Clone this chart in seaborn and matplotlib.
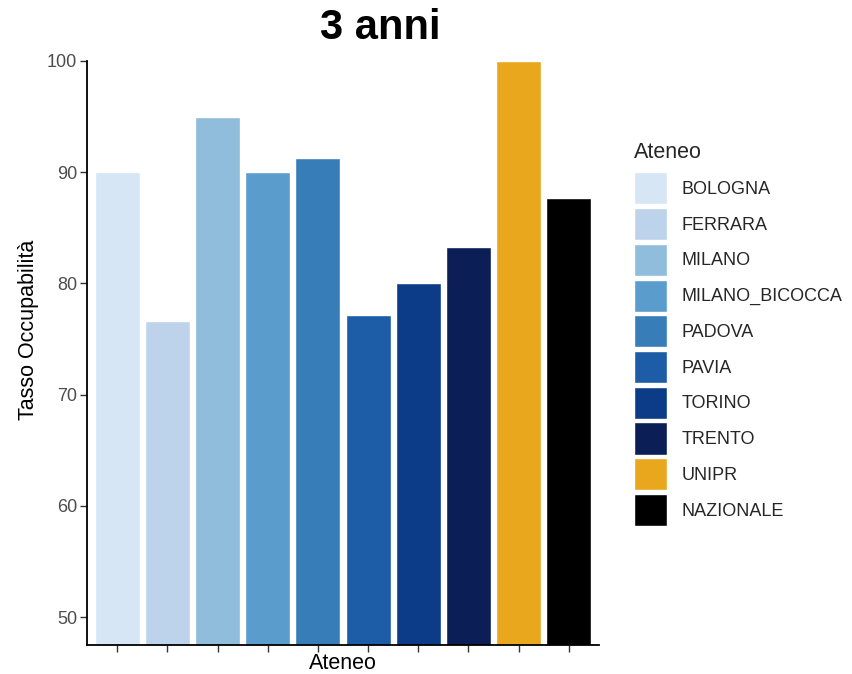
import matplotlib
matplotlib.use("Agg")
import matplotlib.pyplot as plt
import seaborn as sns
import pandas as pd
from matplotlib.patches import Patch

# dati
atenei = ["BOLOGNA", "FERRARA", "MILANO", "MILANO_BICOCCA", "PADOVA",
          "PAVIA", "TORINO", "TRENTO", "UNIPR", "NAZIONALE"]
tasso = [90.0, 76.6, 95.0, 90.0, 91.3, 77.2, 80.0, 83.3, 100.0, 87.7]
colori = ["#d6e6f4", "#bdd3eb", "#8fbddb", "#5a9dcc", "#377eb9",
          "#1d5ca7", "#0c3b88", "#0b1f56", "#e8a71c", "#000000"]
y_ticks = [50, 60, 70, 80, 90, 100]

sns.set_theme(style="white")
plt.rcParams["font.family"] = ["Liberation Sans", "DejaVu Sans"]

df = pd.DataFrame({"Ateneo": atenei, "Tasso": tasso})
palette = dict(zip(atenei, colori))

fig = plt.figure(figsize=(8.52, 6.74), dpi=100)
ax = fig.add_axes([87 / 852, 1 - 645 / 674, 512 / 852, (645 - 61) / 674])

sns.barplot(data=df, x="Ateneo", y="Tasso", hue="Ateneo", palette=palette,
            order=atenei, hue_order=atenei, dodge=False, width=0.9,
            saturation=1, edgecolor="white", linewidth=1.0, legend=False, ax=ax)

ax.set_xlim(-0.6, len(atenei) - 0.4)
ax.set_ylim(47.5, 100)
ax.set_yticks(y_ticks)
ax.set_yticklabels([str(t) for t in y_ticks], fontsize=13, color="#4d4d4d")
ax.set_xticks(range(len(atenei)))
ax.set_xticklabels([""] * len(atenei))
ax.tick_params(axis="both", length=5, width=1, color="#333333", direction="out",
               bottom=True, left=True, pad=2)

for s in ["top", "right"]:
    ax.spines[s].set_visible(False)
for s in ["left", "bottom"]:
    ax.spines[s].set_color("black")
    ax.spines[s].set_linewidth(1.3)

ax.set_xlabel("Ateneo", fontsize=15.5, color="black")
ax.set_ylabel("Tasso Occupabilità", fontsize=15.5, color="black")
ax.xaxis.set_label_coords(0.5, -0.014)
ax.yaxis.set_label_coords(-0.115, 0.54)
ax.yaxis.label.set_verticalalignment("center")

fig.text(380 / 852, 1 - 28 / 674, "3 anni", ha="center", va="center",
         fontsize=30, fontweight="bold", color="black")

handles = [Patch(facecolor=c, edgecolor="white", label=a) for a, c in zip(atenei, colori)]
leg = fig.legend(handles=handles, title="Ateneo", loc="upper left",
                 bbox_to_anchor=(630 / 852, 1 - 138 / 674), frameon=False,
                 fontsize=13, title_fontsize=15.5, handlelength=1.85,
                 handleheight=2.36, labelspacing=0.2, handletextpad=0.8,
                 borderaxespad=0, borderpad=0.2)
leg._legend_box.align = "left"
leg._legend_box.sep = 7  # spazio tra titolo e voci

fig.savefig("out.png", dpi=100)
